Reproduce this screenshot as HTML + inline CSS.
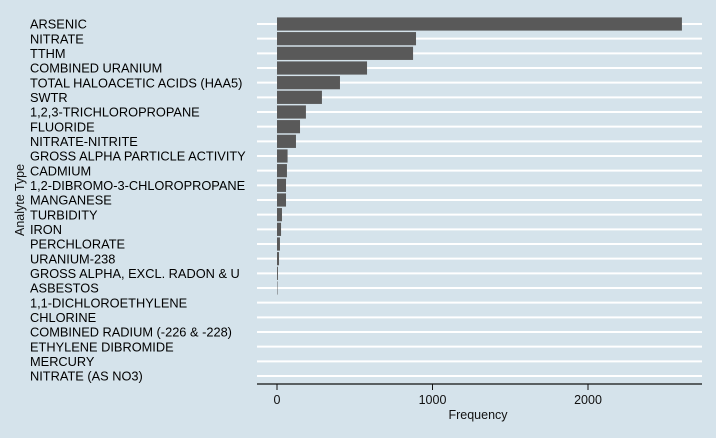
<!DOCTYPE html>
<html><head><meta charset="utf-8"><style>
body{margin:0;background:#d5e3eb;}
svg{display:block;font-family:"Liberation Sans",sans-serif;}
</style></head><body>
<svg id="chart" width="716" height="438">
<rect width="716" height="438" fill="#d5e3eb"/>
<g id="grid"></g><g id="bars"></g><g id="ylabels"></g><g id="xaxis"></g>
<text x="478" y="419" text-anchor="middle" font-size="12.5" fill="#111">Frequency</text>
<text transform="translate(24,200) rotate(-90)" text-anchor="middle" font-size="12.5" fill="#111">Analyte Type</text>
</svg>
<script>
const categories=["ARSENIC","NITRATE","TTHM","COMBINED URANIUM","TOTAL HALOACETIC ACIDS (HAA5)","SWTR","1,2,3-TRICHLOROPROPANE","FLUORIDE","NITRATE-NITRITE","GROSS ALPHA PARTICLE ACTIVITY","CADMIUM","1,2-DIBROMO-3-CHLOROPROPANE","MANGANESE","TURBIDITY","IRON","PERCHLORATE","URANIUM-238","GROSS ALPHA, EXCL. RADON & U","ASBESTOS","1,1-DICHLOROETHYLENE","CHLORINE","COMBINED RADIUM (-226 & -228)","ETHYLENE DIBROMIDE","MERCURY","NITRATE (AS NO3)"];
const values=[2604,894,875,579,405,289,186,148,122,68,64,58,58,32,26,19,13,6,3,0,0,0,0,0,0];
const xTicks=[0,1000,2000];
const ns="http://www.w3.org/2000/svg";
const x=v=>277+v*0.1555;
const y=i=>24+i*14.667;
function mk(t,a,p){const e=document.createElementNS(ns,t);for(const k in a)e.setAttribute(k,a[k]);p.appendChild(e);return e;}
const G=document.getElementById('grid'),B=document.getElementById('bars'),L=document.getElementById('ylabels'),X=document.getElementById('xaxis');
categories.forEach((c,i)=>{
 const g=mk('line',{x1:257,x2:702,y1:y(i),y2:y(i),stroke:'#fff','stroke-width':2},G);
 
 
 if(values[i]>0){
  const r=mk('rect',{x:x(0),y:y(i)-6.6,width:x(values[i])-x(0),height:13.2,fill:'#595959'},B);
  
  
 }
 const t=mk('text',{x:30,y:y(i)+4.6,'font-size':12.8,fill:'#000'},L);
 t.textContent=c;
 
 
});
const ax=mk('line',{x1:257,x2:702,y1:384,y2:384,stroke:'#111','stroke-width':1.2},X);


xTicks.forEach(v=>{
 const tk=mk('line',{x1:x(v),x2:x(v),y1:384,y2:390,stroke:'#111','stroke-width':1},X);
 
 
 const t=mk('text',{x:x(v),y:404,'text-anchor':'middle','font-size':12.5,fill:'#111'},X);
 t.textContent=v;
 
 
});
</script>
</body></html>
